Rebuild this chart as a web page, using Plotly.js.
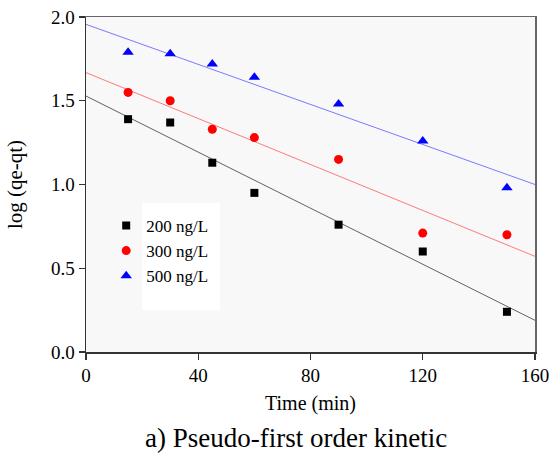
<!DOCTYPE html>
<html>
<head>
<meta charset="utf-8">
<script src="https://cdn.plot.ly/plotly-3.0.1.min.js"></script>
<style>html,body{margin:0;padding:0;background:#fff;}#chart{width:550px;height:454px;}</style>
</head>
<body>
<div id="chart"></div>
<script>
// Data
var timeMin = [15, 30, 45, 60, 90, 120, 150];
var log200 = [1.39, 1.37, 1.13, 0.95, 0.76, 0.60, 0.24];
var log300 = [1.55, 1.50, 1.33, 1.28, 1.15, 0.71, 0.70];
var log500 = [1.79, 1.78, 1.72, 1.64, 1.48, 1.26, 0.98];
// Fitted lines (endpoints at t=0 and t=160)
var fitTime = [0, 160];
var fit200 = [1.528, 0.189];
var fit300 = [1.668, 0.571];
var fit500 = [1.956, 1.0];
var seriesNames = ['200 ng/L', '300 ng/L', '500 ng/L'];
var xTicks = [0, 40, 80, 120, 160];
var yTicks = [0.0, 0.5, 1.0, 1.5, 2.0];
var yTickText = ['0.0', '0.5', '1.0', '1.5', '2.0'];

var serif = 'Liberation Serif, Times New Roman, serif';

var traces = [
  {x: fitTime, y: fit200, mode: 'lines', line: {color: '#606060', width: 1}, showlegend: false, hoverinfo: 'skip'},
  {x: fitTime, y: fit300, mode: 'lines', line: {color: '#ff7a7a', width: 1}, showlegend: false, hoverinfo: 'skip'},
  {x: fitTime, y: fit500, mode: 'lines', line: {color: '#7a7aff', width: 1}, showlegend: false, hoverinfo: 'skip'},
  {x: timeMin, y: log200, mode: 'markers', name: seriesNames[0],
   marker: {symbol: 'square', size: 8, color: '#000000'}},
  {x: timeMin, y: log300, mode: 'markers', name: seriesNames[1],
   marker: {symbol: 'circle', size: 9, color: '#ff0000'}},
  {x: timeMin, y: log500, mode: 'markers', name: seriesNames[2],
   marker: {symbol: 'triangle-up', size: 10, color: '#0000ff'}}
];

var layout = {
  width: 550, height: 454,
  margin: {l: 86, r: 15, t: 17, b: 102},
  paper_bgcolor: '#ffffff',
  plot_bgcolor: '#f8f8f8',
  font: {family: serif, color: '#000'},
  showlegend: true,
  legend: {
    x: 0.045, y: 0.43, xanchor: 'left', yanchor: 'top',
    bgcolor: 'rgba(0,0,0,0)', borderwidth: 0,
    font: {family: serif, size: 17, color: '#000'},
    traceorder: 'normal'
  },
  shapes: [
    {type: 'rect', xref: 'paper', yref: 'paper', x0: 0.125, x1: 0.298, y0: 0.125, y1: 0.445,
     fillcolor: '#ffffff', line: {width: 0}, layer: 'below'}
  ],
  xaxis: {
    range: [0, 160], tickvals: xTicks, ticktext: xTicks.map(String),
    ticks: 'outside', ticklen: 6, tickwidth: 1.2, tickcolor: '#333',
    showline: true, linecolor: '#333', linewidth: 1.5,
    showgrid: false, zeroline: false,
    tickfont: {family: serif, size: 19, color: '#000'},
    title: {text: 'Time (min)', font: {family: serif, size: 20, color: '#000'}, standoff: 10}
  },
  xaxis2: {overlaying: 'x', side: 'top', range: [0,160], showline: true, linecolor: '#666', linewidth: 1.5, showticklabels: false, ticks: '', showgrid: false, zeroline: false},
  yaxis: {
    range: [0, 2.0], tickvals: yTicks, ticktext: yTickText,
    ticks: 'outside', ticklen: 6, tickwidth: 1.2, tickcolor: '#333',
    showline: true, linecolor: '#333', linewidth: 1.5,
    showgrid: false, zeroline: false,
    tickfont: {family: serif, size: 19, color: '#000'},
    title: {text: 'log (qe-qt)', font: {family: serif, size: 21, color: '#000'}, standoff: 22}
  },
  yaxis2: {overlaying: 'y', side: 'right', range: [0,2], showline: true, linecolor: '#666', linewidth: 1.5, showticklabels: false, ticks: '', showgrid: false, zeroline: false},
  annotations: [
    {text: 'a) Pseudo-first order kinetic', xref: 'paper', yref: 'paper', x: 0.468, y: -0.257,
     xanchor: 'center', yanchor: 'middle', showarrow: false,
     font: {family: serif, size: 27, color: '#000'}}
  ]
};

// invisible helper trace so the top and right frame lines are drawn
traces.push({x: [0], y: [0], xaxis: 'x2', yaxis: 'y2', mode: 'markers', marker: {opacity: 0}, showlegend: false, hoverinfo: 'skip'});

Plotly.newPlot('chart', traces, layout, {displayModeBar: false, staticPlot: true});
</script>
</body>
</html>
